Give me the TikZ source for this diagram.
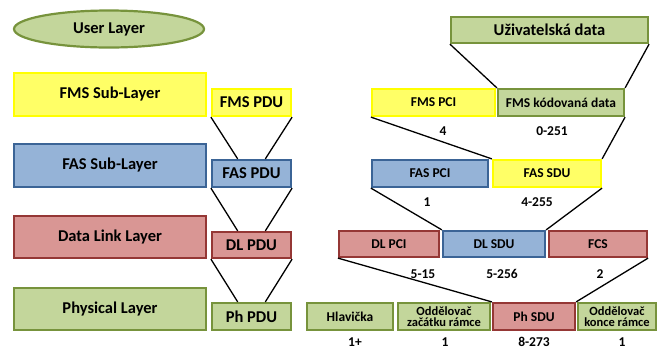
\documentclass[tikz,border=0pt]{standalone}
\usepackage{fontspec}
\setmainfont{Carlito}
\usetikzlibrary{calc,shapes.geometric}
\definecolor{grfill}{HTML}{C3D69B}
\definecolor{grline}{HTML}{77933C}
\definecolor{yefill}{HTML}{FFFF66}
\definecolor{yeline}{HTML}{FFFF00}
\definecolor{blfill}{HTML}{95B3D7}
\definecolor{blline}{HTML}{3B6496}
\definecolor{rdfill}{HTML}{D99694}
\definecolor{rdline}{HTML}{953735}
\tikzset{
  box/.style={rectangle, line width=2.2pt, inner sep=0pt, align=center, font=\bfseries\fontsize{16.5}{16}\selectfont},
  big/.style={box, font=\bfseries\fontsize{16.5}{16}\selectfont},
  small/.style={box, font=\bfseries\fontsize{13.5}{11.5}\selectfont},
  twoline/.style={box, font=\bfseries\fontsize{12.5}{11.5}\selectfont},
  grbox/.style={fill=grfill, draw=grline},
  yebox/.style={fill=yefill, draw=yeline},
  blbox/.style={fill=blfill, draw=blline},
  rdbox/.style={fill=rdfill, draw=rdline},
  sz/.style={inner sep=0pt, font=\bfseries\fontsize{13.5}{13}\selectfont},
  link/.style={line width=1.3pt, black},
}
\begin{document}
\begin{tikzpicture}[x=1pt, y=-1pt]
\useasboundingbox (0,0) rectangle (658,349);

% layer stack on the left
\node[big, ellipse, grbox, minimum width=190pt, minimum height=37pt] (user) at (109,29) {User Layer};
\node[big, yebox, minimum width=192pt, minimum height=43pt] (fmsl) at (110,94.5) {FMS Sub-Layer};
\node[big, blbox, minimum width=192pt, minimum height=43pt] (fasl) at (110,165.5) {FAS Sub-Layer};
\node[big, rdbox, minimum width=192pt, minimum height=42pt] (dll) at (110,237) {Data Link Layer};
\node[big, grbox, minimum width=192pt, minimum height=42pt] (phl) at (110,309) {Physical Layer};

% PDU column
\node[box, yebox, minimum width=79pt, minimum height=27pt] (fmspdu) at (251.5,102.5) {FMS PDU};
\node[box, blbox, minimum width=79pt, minimum height=27pt] (faspdu) at (251.5,173.5) {FAS PDU};
\node[box, rdbox, minimum width=79pt, minimum height=26pt] (dlpdu) at (251.5,245) {DL PDU};
\node[box, grbox, minimum width=79pt, minimum height=27pt] (phpdu) at (251.5,316.5) {Ph PDU};

% encapsulation on the right
\node[big, grbox, minimum width=197pt, minimum height=26pt] (udata) at (549.5,30) {Uživatelská data};
\node[small, yebox, minimum width=123pt, minimum height=27pt] (fmspci) at (433.5,102.5) {FMS PCI};
\node[small, grbox, minimum width=126pt, minimum height=27pt] (fmskod) at (561,102.5) {FMS kódovaná data};
\node[small, blbox, minimum width=116pt, minimum height=27pt] (faspci) at (430,173.5) {FAS PCI};
\node[small, yebox, minimum width=108pt, minimum height=27pt] (fassdu) at (547,173.5) {FAS SDU};
\node[small, rdbox, minimum width=100pt, minimum height=26pt] (dlpci) at (389,244) {DL PCI};
\node[small, blbox, minimum width=102pt, minimum height=26pt] (dlsdu) at (494,244) {DL SDU};
\node[small, rdbox, minimum width=98pt, minimum height=26pt] (fcs) at (598,244) {FCS};
\node[small, grbox, minimum width=86pt, minimum height=27pt] (hlav) at (350,316.5) {Hlavička};
\node[twoline, grbox, minimum width=92pt, minimum height=27pt] (oddzac) at (444,316.5) {Oddělovač\\začátku rámce};
\node[small, rdbox, minimum width=82pt, minimum height=27pt] (phsdu) at (534,316.5) {Ph SDU};
\node[twoline, grbox, minimum width=78pt, minimum height=27pt] (oddkon) at (617,316.5) {Oddělovač\\konce rámce};

% field sizes
\node[sz] (s1) at (443,131) {4};
\node[sz] (s2) at (552,131) {0-251};
\node[sz] (s3) at (427,202) {1};
\node[sz] (s4) at (537,202) {4-255};
\node[sz] (s5) at (423,274) {5-15};
\node[sz] (s6) at (502,274) {5-256};
\node[sz] (s7) at (600,274) {2};
\node[sz] (s8) at (355,342) {1+};
\node[sz] (s9) at (445,342) {1};
\node[sz] (s10) at (534,342) {8-273};
\node[sz] (s11) at (622,342) {1};

% PDU funnels
\draw[link] (fmspdu.south west) -- ($(faspdu.north west)!0.33!(faspdu.north east)$);
\draw[link] (fmspdu.south east) -- ($(faspdu.north west)!0.67!(faspdu.north east)$);
\draw[link] (faspdu.south west) -- ($(dlpdu.north west)!0.33!(dlpdu.north east)$);
\draw[link] (faspdu.south east) -- ($(dlpdu.north west)!0.67!(dlpdu.north east)$);
\draw[link] (dlpdu.south west) -- ($(phpdu.north west)!0.33!(phpdu.north east)$);
\draw[link] (dlpdu.south east) -- ($(phpdu.north west)!0.67!(phpdu.north east)$);

% encapsulation funnels
\draw[link] (udata.south west) -- (fmskod.north west);
\draw[link] (udata.south east) -- (fmskod.north east);
\draw[link] (fmspci.south west) -- (fassdu.north west);
\draw[link] (fmskod.south east) -- (fassdu.north east);
\draw[link] (faspci.south west) -- (dlsdu.north west);
\draw[link] (fassdu.south east) -- (dlsdu.north east);
\draw[link] (dlpci.south west) -- (phsdu.north west);
\draw[link] (fcs.south east) -- (phsdu.north east);
\end{tikzpicture}
\end{document}
